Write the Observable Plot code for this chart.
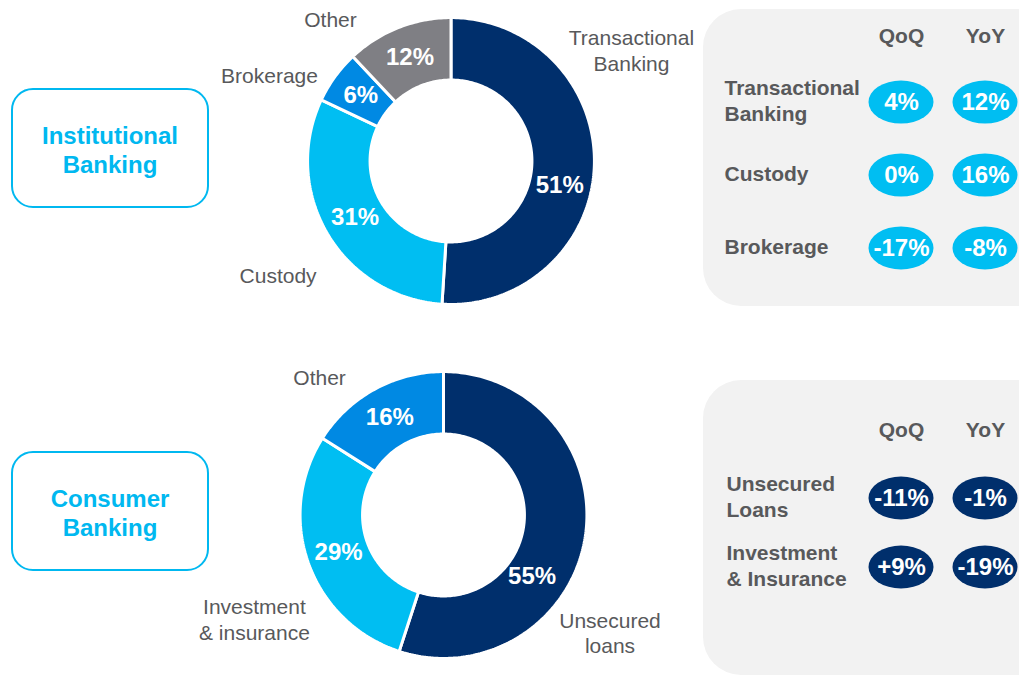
<!DOCTYPE html>
<html><head><meta charset="utf-8">
<script src="https://cdn.jsdelivr.net/npm/d3@7"></script>
<script src="https://cdn.jsdelivr.net/npm/@observablehq/plot@0.6"></script>
<style>
html,body{margin:0;padding:0;background:#fff;}
body{width:1019px;height:675px;overflow:hidden;font-family:"Liberation Sans",Arial,sans-serif;}
#page{position:relative;width:1019px;height:675px;overflow:hidden;}
.seg{position:absolute;left:11px;width:198px;height:120px;box-sizing:border-box;border:2.5px solid #00B8F0;border-radius:22px;display:flex;align-items:center;justify-content:center;text-align:center;color:#00B8F0;font-weight:bold;font-size:24px;line-height:29px;padding-top:3px;}
.panel{position:absolute;left:703px;width:380px;background:#F2F2F2;border-radius:38px;}
</style></head>
<body><div id="page"></div>
<script>
// ---------- data ----------
const instSegments = ["Transactional Banking", "Custody", "Brokerage", "Other"];
const instLabels = ["Transactional\nBanking", "Custody", "Brokerage", "Other"];
const instShares = [51, 31, 6, 12];

const consSegments = ["Unsecured loans", "Investment & insurance", "Other"];
const consLabels = ["Unsecured\nloans", "Investment\n& insurance", "Other"];
const consShares = [55, 29, 16];

const growthColumns = ["QoQ", "YoY"];
const instGrowthRows = ["Transactional\nBanking", "Custody", "Brokerage"];
const instQoQ = [4, 0, -17];
const instYoY = [12, 16, -8];
const consGrowthRows = ["Unsecured\nLoans", "Investment\n& Insurance"];
const consQoQ = [-11, 9];
const consYoY = [-1, -19];

const segmentTitles = ["Institutional\nBanking", "Consumer\nBanking"];

// ---------- styles ----------
const instColors = ["#002F6C", "#00BEF2", "#0089E3", "#7F7F84"];
const consColors = ["#002F6C", "#00BEF2", "#0089E3"];
const instPill = "#00BEF2";
const consPill = "#002F6C";
const grayText = "#58595B";
const FONT = "'Liberation Sans', Arial, sans-serif";

// ---------- label layout (angle in degrees clockwise from 12 o'clock, radius in outer-radius units) ----------
const instOutsideAngle = [58.4, 236.7, 295.5, 319.7];
const instOutsideRadius = [1.492, 1.457, 1.416, 1.312];
const instInsideAngle = [102.7, null, null, null];
const instInsideRadius = [null, null, null, null];
const consOutsideAngle = [125.2, 241.3, 318.2];
const consOutsideRadius = [1.435, 1.518, 1.309];
const consInsideAngle = [124.8, null, null];
const consInsideRadius = [0.76, null, null];

const page = document.getElementById("page");

function place(node, left, top) {
  node.style.position = "absolute";
  node.style.left = left + "px";
  node.style.top = top + "px";
  page.appendChild(node);
}

function donut({names, labels, shares, colors, insideAngle, insideRadius, outsideAngle, outsideRadius,
                width, height, cx, cy, R, inner}) {
  const total = d3.sum(shares);
  let acc = 0;
  const slices = names.map((n, i) => {
    const a0 = acc / total; acc += shares[i];
    return {name: n, label: labels[i], share: shares[i], a0, a1: acc / total, i};
  });
  const outerR = 1.01;
  const pts = slices.flatMap(s => {
    const n = Math.max(2, Math.ceil((s.a1 - s.a0) * 360));
    const ts = d3.range(n + 1).map(k => s.a0 + (s.a1 - s.a0) * k / n);
    return [
      ...ts.map(t => ({name: s.name, r: outerR, t})),
      ...ts.slice().reverse().map(t => ({name: s.name, r: inner, t}))
    ];
  });
  const polar = (deg, r) => ({x: r * Math.sin(deg * Math.PI / 180), y: r * Math.cos(deg * Math.PI / 180)});
  const inside = slices.map(s => {
    const deg = insideAngle[s.i] ?? ((s.a0 + s.a1) / 2 * 360);
    const r = insideRadius[s.i] ?? (1 + inner) / 2;
    return {...polar(deg, r), text: s.share + "%"};
  });
  const outside = slices.map(s => ({...polar(outsideAngle[s.i], outsideRadius[s.i]), text: s.label}));
  return Plot.plot({
    width, height, margin: 0,
    x: {domain: [-cx / R, (width - cx) / R], axis: null},
    y: {domain: [-(height - cy) / R, cy / R], axis: null},
    color: {domain: names, range: colors},
    style: {fontFamily: FONT, background: "transparent", overflow: "visible"},
    marks: [
      Plot.line(pts, {
        x: d => d.r * Math.sin(2 * Math.PI * d.t),
        y: d => d.r * Math.cos(2 * Math.PI * d.t),
        z: "name", fill: "name", stroke: "white", strokeWidth: 3,
        curve: "linear-closed", strokeLinejoin: "miter"
      }),
      Plot.text(inside, {x: "x", y: "y", text: "text", fill: "white", fontSize: 24, fontWeight: "bold"}),
      Plot.text(outside, {x: "x", y: "y", text: "text", fill: grayText, fontSize: 21, lineHeight: 1.22})
    ]
  });
}

function growthPanel({rows, qoq, yoy, fmt, color, width, height, marginTop, marginLeft, yRange, yPadding}) {
  const cells = rows.flatMap((r, i) => [
    {row: r, col: growthColumns[0], v: qoq[i]},
    {row: r, col: growthColumns[1], v: yoy[i]}
  ]);
  return Plot.plot({
    width, height, marginTop, marginLeft, marginRight: 0, marginBottom: 0,
    x: {type: "band", domain: growthColumns, range: [165.5, 314.5], paddingInner: 0.226, paddingOuter: 0, round: false},
    y: {type: "band", domain: rows, range: yRange, paddingInner: yPadding, paddingOuter: 0, round: false, axis: null},
    style: {fontFamily: FONT, background: "transparent", overflow: "visible"},
    marks: [
      Plot.axisX({anchor: "top", tickSize: 0, fontSize: 21, fontWeight: "bold", color: grayText, label: null}),
      Plot.cell(cells, {x: "col", y: "row", fill: color, rx: 100, ry: 100}),
      Plot.text(cells, {x: "col", y: "row", text: d => fmt(d.v), fill: "white", fontSize: 24, fontWeight: "bold"}),
      Plot.text(rows, {y: d => d, text: d => d, frameAnchor: "left", textAnchor: "start",
        fontSize: 21, fontWeight: "bold", fill: grayText, lineHeight: 1.24, dy: -3})
    ]
  });
}

// grey panels
const p1 = document.createElement("div"); p1.className = "panel"; p1.style.top = "9px"; p1.style.height = "297px"; page.appendChild(p1);
const p2 = document.createElement("div"); p2.className = "panel"; p2.style.top = "380px"; p2.style.height = "295px"; page.appendChild(p2);

// segment boxes
[88, 451].forEach((top, i) => {
  const b = document.createElement("div");
  b.className = "seg"; b.style.top = top + "px";
  b.innerHTML = segmentTitles[i].split("\n").join("<br>");
  page.appendChild(b);
});

// donuts
place(donut({names: instSegments, labels: instLabels, shares: instShares, colors: instColors,
  insideAngle: instInsideAngle, insideRadius: instInsideRadius,
  outsideAngle: instOutsideAngle, outsideRadius: instOutsideRadius,
  width: 520, height: 330, cx: 260.5, cy: 160.5, R: 142, inner: 0.57}), 190, 0);

place(donut({names: consSegments, labels: consLabels, shares: consShares, colors: consColors,
  insideAngle: consInsideAngle, insideRadius: consInsideRadius,
  outsideAngle: consOutsideAngle, outsideRadius: consOutsideRadius,
  width: 520, height: 330, cx: 260, cy: 169.5, R: 142, inner: 0.57}), 183, 345);

// growth panels
place(growthPanel({rows: instGrowthRows, qoq: instQoQ, yoy: instYoY, fmt: v => v + "%", color: instPill,
  width: 316, height: 297, marginTop: 42, marginLeft: 21, yRange: [71.5, 260.5], yPadding: 0.41}), 703, 9);

place(growthPanel({rows: consGrowthRows, qoq: consQoQ, yoy: consYoY, fmt: v => (v > 0 ? "+" : "") + v + "%", color: consPill,
  width: 316, height: 295, marginTop: 65, marginLeft: 23, yRange: [96.5, 208.5], yPadding: 0.377}), 703, 380);
</script>
</body></html>
